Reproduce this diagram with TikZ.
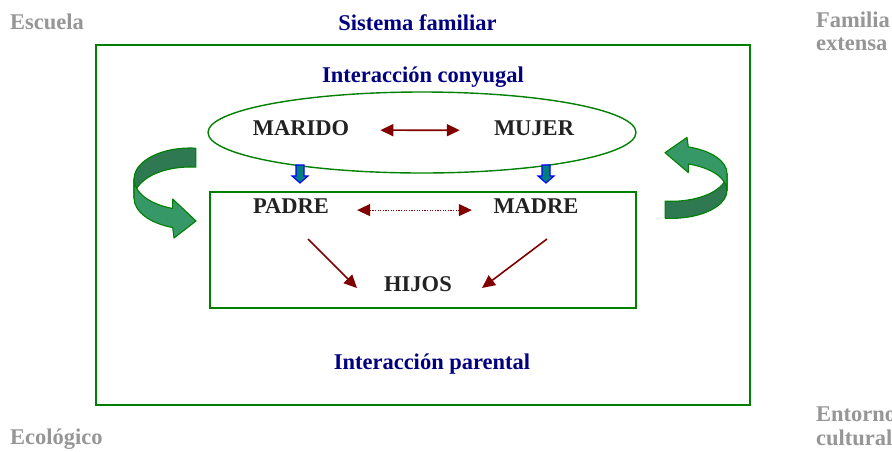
\documentclass[tikz,border=0pt]{standalone}
\usepackage{fontspec}
\setmainfont{Liberation Serif}
\usetikzlibrary{arrows.meta,shapes.geometric}

\definecolor{frame}{RGB}{0,128,0}
\definecolor{title}{RGB}{0,0,128}
\definecolor{outside}{RGB}{150,150,150}
\definecolor{link}{RGB}{128,0,0}
\definecolor{inkblack}{RGB}{34,34,34}
\definecolor{ribbondark}{RGB}{46,120,82}
\definecolor{ribbonlight}{RGB}{54,152,102}
\definecolor{dropfill}{RGB}{0,128,128}

\tikzset{
  word/.style={font=\fontsize{22.5}{23.5}\selectfont\bfseries, text=inkblack, inner sep=0pt},
  heading/.style={word, text=title},
  around/.style={word, text=outside, align=left},
  box/.style={draw=frame, line width=1.4pt},
  tie/.style={draw=link, line width=1.6pt},
  drop/.style={draw=blue, fill=dropfill, line width=1.1pt, line join=miter},
  ribbonback/.style={draw=frame, fill=ribbondark, line width=1.1pt, line join=round},
  ribbonfront/.style={draw=frame, fill=ribbonlight, line width=1.1pt, line join=round}
}

% one turning band with its head, drawn round (0,0)
\newcommand{\turnarrow}{%
  \filldraw[ribbonback] (-84:56 and 31) arc (-84:-180:56 and 31) -- ++(0,19)
    arc (-180:-84:56 and 31) -- cycle;
  \filldraw[ribbonfront] (180:56 and 31) arc (180:108:56 and 31) -- (-17.3,20)
    -- (6,42) -- (-16,59) -- (-17.3,48.5) arc (108:180:56 and 31) -- cycle;}

\begin{document}
\begin{tikzpicture}[x=1pt, y=-1pt, >={Triangle[length=13pt,width=12pt]}]
  \useasboundingbox (0,0) rectangle (892,451);
  \node (sistema) at (423,225) [box, minimum width=654pt, minimum height=360pt] {};
  \node (conyugal) at (422,132.5) [box, ellipse, minimum width=428pt,
    minimum height=81pt] {};
  \node (parental) at (423,250) [box, minimum width=426pt, minimum height=116pt] {};

  \node (titulo) at (417.5,30) [heading, anchor=base] {Sistema familiar};
  \node (escuela) at (10,29) [around, anchor=base west] {Escuela};
  \node (extensa) at (816,11.5) [around, anchor=north west] {Familia\\extensa};
  \node (entorno) at (816,407) [around, anchor=north west] {Entorno\\cultural};
  \node (ecologico) at (10,444) [around, anchor=base west] {Ecológico};
  \node (tconyugal) at (423,82) [heading, anchor=base] {Interacción conyugal};
  \node (tparental) at (432,369) [heading, anchor=base] {Interacción parental};

  \node (marido) at (301,135) [word, anchor=base] {MARIDO};
  \node (mujer) at (534,135) [word, anchor=base] {MUJER};
  \node (padre) at (291,213.5) [word, anchor=base] {PADRE};
  \node (madre) at (536,213.5) [word, anchor=base] {MADRE};
  \node (hijos) at (418,291) [word, anchor=base] {HIJOS};

  \draw[tie, <->, shorten <=31pt, shorten >=34pt] ([yshift=-2.5pt]marido.east)
    -- ([yshift=-2.5pt]mujer.west);
  \draw[tie, <->, line width=1.2pt, dash pattern=on 1.2pt off 1.4pt,
    shorten <=28pt, shorten >=21.5pt] ([yshift=-4pt]padre.east)
    -- ([yshift=-4pt]madre.west);
  \coordinate (padrepie) at (308,239); \coordinate (madrepie) at (547,239);
  \coordinate (hijosizq) at (357,288); \coordinate (hijosder) at (482,288);
  \draw[tie, ->] (padrepie) -- (hijosizq);
  \draw[tie, ->] (madrepie) -- (hijosder);

  \foreach \x in {300,546}
    \draw[drop] ({\x-4},165) -- ({\x+4},165) -- ({\x+4},176) -- ({\x+8},176)
      -- (\x,183) -- ({\x-8},176) -- ({\x-4},176) -- cycle;

  \begin{scope}[shift={(190,179)}] \turnarrow \end{scope}
  \begin{scope}[shift={(671,190.5)}, rotate=180, yscale=0.9] \turnarrow \end{scope}
\end{tikzpicture}
\end{document}
